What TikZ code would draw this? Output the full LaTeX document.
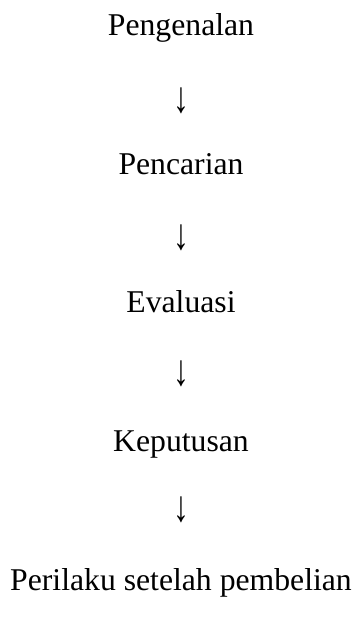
\documentclass[tikz,border=0pt]{standalone}
\usepackage{fontspec}
\usepackage{graphicx}
\setmainfont{Liberation Serif}
\newcommand{\downglyph}{\resizebox*{\width}{26pt}{↓}}
\begin{document}
\begin{tikzpicture}[x=1pt,y=-1pt,
  stage/.style={anchor=base,inner sep=0pt,font=\fontsize{31.7}{38}\selectfont},
  downarrow/.style={anchor=center,inner sep=0pt,font=\fontsize{31.7}{38}\selectfont}]
  \useasboundingbox[fill=white] (0,0) rectangle (362,628);
  % process stages, top to bottom
  \node[stage] (s1) at (181,36) {Pengenalan};
  \node[downarrow] (a1) at (181,101) {\downglyph};
  \node[stage] (s2) at (181,175) {Pencarian};
  \node[downarrow] (a2) at (181,238) {\downglyph};
  \node[stage] (s3) at (181,312) {Evaluasi};
  \node[downarrow] (a3) at (181,374) {\downglyph};
  \node[stage] (s4) at (181,451) {Keputusan};
  \node[downarrow] (a4) at (181,510) {\downglyph};
  \node[stage] (s5) at (181,590) {Perilaku setelah pembelian};
\end{tikzpicture}
\end{document}
